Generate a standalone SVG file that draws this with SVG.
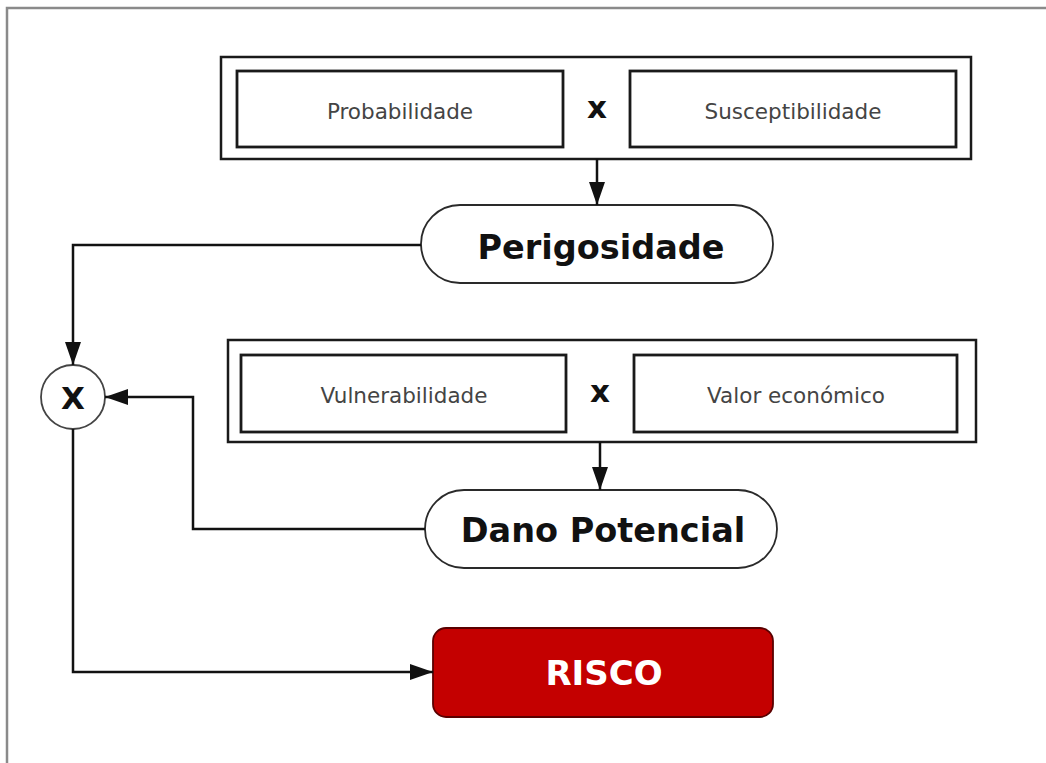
<svg xmlns="http://www.w3.org/2000/svg" width="1046" height="763" viewBox="0 0 1046 763">
<style>
.frame{fill:none;stroke:#8a8a8a;stroke-width:2.5}
.outer{fill:#fff;stroke:#1a1a1a;stroke-width:2.5}
.inner{fill:#fff;stroke:#1a1a1a;stroke-width:2.8}
.pill{fill:#fff;stroke:#2a2a2a;stroke-width:1.8}
.conn{fill:none;stroke:#111;stroke-width:2.5}
.lbl{font-family:"DejaVu Sans",Verdana,sans-serif;font-size:21.5px;fill:#444;text-anchor:middle}
.times{font-family:"DejaVu Sans",Verdana,sans-serif;font-size:31px;font-weight:bold;fill:#111;text-anchor:middle}
.big{font-family:"DejaVu Sans",Verdana,sans-serif;font-size:33.5px;font-weight:bold;fill:#111;text-anchor:middle}
.risk{font-family:"DejaVu Sans",Verdana,sans-serif;font-size:34px;font-weight:bold;fill:#fff;text-anchor:middle}
</style>
<defs>
<marker id="arr" markerUnits="userSpaceOnUse" markerWidth="24" markerHeight="18" refX="23" refY="8" orient="auto">
<path d="M0,0 L23,8 L0,16 z" fill="#111"/>
</marker>
</defs>
<rect width="1046" height="763" fill="#fff"/>
<path class="frame" d="M7,763 V8 H1046"/>

<g id="hazard-factors">
<rect class="outer" x="221" y="57" width="750" height="102"/>
<g id="probabilidade">
<rect class="inner" x="237" y="71" width="326" height="76"/>
<text class="lbl" x="400" y="119">Probabilidade</text>
</g>
<text class="times" x="597" y="118">x</text>
<g id="susceptibilidade">
<rect class="inner" x="630" y="71" width="326" height="76"/>
<text class="lbl" x="793" y="119">Susceptibilidade</text>
</g>
</g>

<g id="perigosidade">
<rect class="pill" x="421" y="205" width="352" height="78" rx="39"/>
<text class="big" x="601" y="259">Perigosidade</text>
</g>

<g id="damage-factors">
<rect class="outer" x="228" y="340" width="748" height="102"/>
<g id="vulnerabilidade">
<rect class="inner" x="241" y="355" width="325" height="77"/>
<text class="lbl" x="404" y="403">Vulnerabilidade</text>
</g>
<text class="times" x="600" y="402">x</text>
<g id="valor-economico">
<rect class="inner" x="634" y="355" width="323" height="77"/>
<text class="lbl" x="796" y="403">Valor económico</text>
</g>
</g>

<g id="dano-potencial">
<rect class="pill" x="425" y="490" width="352" height="78" rx="39"/>
<text class="big" x="603" y="542">Dano Potencial</text>
</g>

<g id="multiply">
<circle cx="73" cy="397" r="32" fill="#fff" stroke="#444" stroke-width="1.8"/>
<text class="times" x="73" y="409" font-size="30">X</text>
</g>

<g id="risco">
<rect x="433" y="628" width="340" height="89" rx="13" fill="#c40000" stroke="#5a0000" stroke-width="1.8"/>
<text class="risk" x="604" y="685">RISCO</text>
</g>

<g id="connectors">
<path class="conn" d="M597,159 V205" marker-end="url(#arr)"/>
<path class="conn" d="M421,245 H73 V365" marker-end="url(#arr)"/>
<path class="conn" d="M600,442 V490" marker-end="url(#arr)"/>
<path class="conn" d="M425,529 H193 V397 H105" marker-end="url(#arr)"/>
<path class="conn" d="M73,429 V672 H433" marker-end="url(#arr)"/>
</g>
</svg>
